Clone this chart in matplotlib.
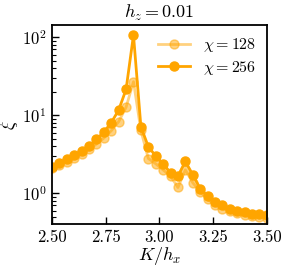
import numpy as np
import matplotlib
matplotlib.use("Agg")
import matplotlib.pyplot as plt

plt.rcParams['font.family'] = 'serif'
plt.rcParams['font.serif'] = ['cmr10']
plt.rcParams['mathtext.fontset'] = 'cm'
plt.rcParams['axes.formatter.use_mathtext'] = True

K = np.linspace(2.5, 3.5, 30)
xi_128 = [2.09, 2.31, 2.52, 2.81, 3.19, 3.66, 4.29, 5.12, 6.35, 8.3, 12.7, 27.0,
          6.4, 2.8, 2.4, 2.0, 1.67, 1.19, 2.0, 1.37, 1.05, 0.84, 0.72, 0.64,
          0.59, 0.56, 0.53, 0.52, 0.50, 0.49]
xi_256 = [2.2, 2.47, 2.73, 3.07, 3.52, 4.08, 4.92, 6.11, 8.05, 11.7, 21.5, 107.0,
          7.16, 3.97, 3.01, 2.38, 1.84, 1.67, 2.57, 1.73, 1.15, 0.92, 0.78, 0.70,
          0.64, 0.60, 0.57, 0.55, 0.54, 0.53]
labels = [r'$\chi = 128$', r'$\chi = 256$']

fig = plt.figure(figsize=(2.87, 2.72), dpi=100)
ax = fig.add_axes([0.181, 0.176, 0.749, 0.732])

ax.plot(K, xi_128, '-o', color='#FFA500', alpha=0.5, lw=2.0, ms=6.5, label=labels[0])
ax.plot(K, xi_256, '-o', color='#FFA500', lw=2.0, ms=6.5, label=labels[1])

ax.set_yscale('log')
ax.set_xlim(2.5, 3.5)
ax.set_ylim(10**-0.394, 10**2.158)
ax.set_xticks([2.5, 2.75, 3.0, 3.25, 3.5])
ax.set_xticklabels(['2.50', '2.75', '3.00', '3.25', '3.50'])
ax.tick_params(axis='both', which='major', direction='in', length=5, width=1, labelsize=12,
               top=False, right=False, pad=4)
ax.tick_params(axis='y', which='minor', direction='in', length=3, width=0.8, right=False)
ax.tick_params(axis='x', which='minor', bottom=False)
for s in ax.spines.values():
    s.set_linewidth(1.3)

ax.set_xlabel(r'$K/h_x$', fontsize=13, labelpad=0)
ax.set_ylabel(r'$\xi$', fontsize=13, labelpad=1)
ax.set_title(r'$h_z = 0.01$', fontsize=13, pad=5)
ax.legend(loc='upper right', frameon=False, fontsize=11.5, handlelength=2.0,
          borderaxespad=0.3, labelspacing=0.3, handletextpad=0.8)

fig.savefig('out.png', dpi=100)
